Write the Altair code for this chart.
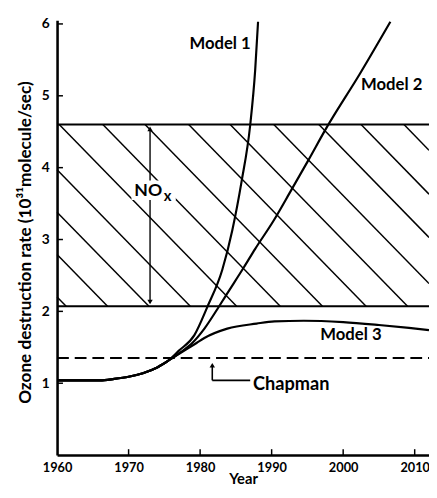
import altair as alt
import pandas as pd

# ---------------- data ----------------
M1_YEARS = [1960, 1963, 1966, 1968, 1970, 1972, 1974, 1975.5, 1977, 1979.2, 1981, 1983.1, 1984.5, 1985.8, 1987.0, 1987.7, 1988.1]
M1_VALUES = [1.04, 1.04, 1.04, 1.06, 1.09, 1.14, 1.22, 1.31, 1.45, 1.67, 2.06, 2.58, 3.13, 3.81, 4.59, 5.36, 6.03]

M2_YEARS = [1960, 1963, 1966, 1968, 1970, 1972, 1974, 1975.5, 1977.4, 1979, 1980.6, 1982.4, 1983.6, 1986.1, 1987.7, 1990.2, 1992.7, 1995.0, 1997.7, 2002.3, 2006.6]
M2_VALUES = [1.04, 1.04, 1.04, 1.06, 1.09, 1.14, 1.22, 1.31, 1.44, 1.57, 1.76, 2.03, 2.22, 2.61, 2.87, 3.25, 3.68, 4.08, 4.56, 5.30, 6.03]

M3_YEARS = [1960, 1963, 1966, 1968, 1970, 1972, 1974, 1975.5, 1977.4, 1979.5, 1980.6, 1983.8, 1987.9, 1990.4, 1994.5, 2000, 2005, 2009.2, 2012]
M3_VALUES = [1.04, 1.04, 1.04, 1.06, 1.09, 1.14, 1.22, 1.31, 1.43, 1.56, 1.63, 1.76, 1.83, 1.86, 1.87, 1.85, 1.81, 1.77, 1.74]

NOX_TOP = 4.6
NOX_BOTTOM = 2.07
CHAPMAN = 1.35

HATCH_TOP_YEARS = [1960.3, 1966.4, 1972.3, 1978.4, 1984.2, 1990.3, 1996.6, 2002.5, 2008.5]
HATCH_LEFT_VALUES = [3.97, 3.38, 2.79, 2.20]
HATCH_SLOPE = 0.102  # units per year

X_MIN, X_MAX = 1960, 2012
Y_MIN, Y_MAX = 0, 6.05
X_TICKS = [1960, 1970, 1980, 1990, 2000, 2010]
X_TICK_MARKS = [1970, 1980, 1990, 2000, 2010]
Y_TICKS = [1, 2, 3, 4, 5, 6]

LABELS = ["Model 1", "Model 2", "Model 3", "Chapman", "NO"]
LABEL_X = [1978.5, 2002.5, 1996.8, 1987.4, 1970.8]
LABEL_Y = [5.72, 5.15, 1.67, 0.99, 3.68]
LABEL_SIZE = [17, 17, 17, 18.5, 18]

NOX_SUB = "x"
NOX_SUB_X = 1974.9
NOX_SUB_Y = 3.6

NOX_ARROW_YEAR = 1973.0
CHAPMAN_ARROW_YEAR = 1981.7
CHAPMAN_ELBOW = 1.04
CHAPMAN_LINE_END = 1987.0

FONT = "Lato"
W, H = 379, 443

# ---------------- derived tables ----------------
models = pd.concat([
    pd.DataFrame({"x": M1_YEARS, "y": M1_VALUES, "model": "Model 1"}),
    pd.DataFrame({"x": M2_YEARS, "y": M2_VALUES, "model": "Model 2"}),
    pd.DataFrame({"x": M3_YEARS, "y": M3_VALUES, "model": "Model 3"}),
])

segs = []
for s in HATCH_TOP_YEARS:
    t = s + (NOX_TOP - NOX_BOTTOM) / HATCH_SLOPE
    if t <= X_MAX:
        segs.append({"x": s, "y": NOX_TOP, "x2": t, "y2": NOX_BOTTOM})
    else:
        segs.append({"x": s, "y": NOX_TOP, "x2": X_MAX, "y2": NOX_TOP - HATCH_SLOPE * (X_MAX - s)})
for v in HATCH_LEFT_VALUES:
    segs.append({"x": X_MIN, "y": v, "x2": X_MIN + (v - NOX_BOTTOM) / HATCH_SLOPE, "y2": NOX_BOTTOM})
hatch = pd.DataFrame(segs)

band = pd.DataFrame({"x": [X_MIN, X_MIN], "x2": [X_MAX, X_MAX], "y": [NOX_TOP, NOX_BOTTOM]})
chap = pd.DataFrame({"x": [X_MIN], "x2": [X_MAX], "y": [CHAPMAN]})

xs = alt.Scale(domain=[X_MIN, X_MAX], nice=False, zero=False)
ys = alt.Scale(domain=[Y_MIN, Y_MAX], nice=False, zero=False)

xaxis = alt.Axis(values=X_TICKS, format="d", ticks=False, grid=False, labelFlush=False,
                 domainWidth=2.6, domainColor="black",
                 labelFont=FONT, labelFontWeight="bold", labelFontSize=13, labelColor="black",
                 labelPadding=7, title="Year", titleFont=FONT, titleFontWeight="bold",
                 titleFontSize=15, titleColor="black", titleY=17, titleBaseline="top")
yaxis = alt.Axis(values=Y_TICKS, format="d", ticks=False, grid=False, labelFlush=False,
                 domainWidth=2.6, domainColor="black",
                 labelFont=FONT, labelFontWeight="bold", labelFontSize=14, labelColor="black",
                 labelPadding=8, title="Ozone destruction rate (10³¹molecule/sec)",
                 titleFont=FONT, titleFontWeight="bold", titleFontSize=17.5, titleColor="black",
                 titlePadding=7, titleY=226)

X = alt.X("x:Q", scale=xs, axis=xaxis)
Y = alt.Y("y:Q", scale=ys, axis=yaxis)

hatch_layer = alt.Chart(hatch).mark_rule(color="black", strokeWidth=1.5).encode(
    x=X, y=Y, x2="x2:Q", y2="y2:Q")
band_layer = alt.Chart(band).mark_rule(color="black", strokeWidth=2).encode(x=X, x2="x2:Q", y=Y)
chap_layer = alt.Chart(chap).mark_rule(color="black", strokeWidth=2, strokeDash=[12, 6]).encode(
    x=X, x2="x2:Q", y=Y)

nox_arrow = alt.Chart(pd.DataFrame({"x": [NOX_ARROW_YEAR], "y": [NOX_BOTTOM + 0.05], "y2": [NOX_TOP - 0.05]})).mark_rule(
    color="black", strokeWidth=1.4).encode(x=X, y=Y, y2="y2:Q")
heads = pd.DataFrame({"x": [NOX_ARROW_YEAR, NOX_ARROW_YEAR, CHAPMAN_ARROW_YEAR],
                      "y": [NOX_TOP - 0.06, NOX_BOTTOM + 0.06, CHAPMAN - 0.1],
                      "shape": ["triangle-up", "triangle-down", "triangle-up"]})
head_layer = alt.Chart(heads).mark_point(filled=True, color="black", size=30, opacity=1).encode(
    x=X, y=Y, shape=alt.Shape("shape:N", scale=None, legend=None))

chap_v = alt.Chart(pd.DataFrame({"x": [CHAPMAN_ARROW_YEAR], "y": [CHAPMAN_ELBOW], "y2": [CHAPMAN - 0.1]})).mark_rule(
    color="black", strokeWidth=1.6).encode(x=X, y=Y, y2="y2:Q")
chap_h = alt.Chart(pd.DataFrame({"x": [CHAPMAN_ARROW_YEAR], "x2": [CHAPMAN_LINE_END], "y": [CHAPMAN_ELBOW]})).mark_rule(
    color="black", strokeWidth=1.6).encode(x=X, x2="x2:Q", y=Y)

nox_box = alt.Chart(pd.DataFrame({"x": [1970.4], "x2": [1976.6], "y": [3.55], "y2": [3.82]})).mark_rect(
    color="white").encode(x=X, x2="x2:Q", y=Y, y2="y2:Q")

lines = alt.Chart(models).mark_line(color="black", strokeWidth=2.2, interpolate="monotone", clip=True).encode(
    x=X, y=Y, detail="model:N")

labels = pd.DataFrame({"x": LABEL_X, "y": LABEL_Y, "t": LABELS, "s": LABEL_SIZE})
text_layer = alt.Chart(labels).mark_text(font=FONT, fontWeight="bold", align="left",
                                         baseline="middle", color="black").encode(
    x=X, y=Y, text="t:N", size=alt.Size("s:Q", scale=None, legend=None))
sub_layer = alt.Chart(pd.DataFrame({"x": [NOX_SUB_X], "y": [NOX_SUB_Y], "t": [NOX_SUB]})).mark_text(
    font=FONT, fontWeight="bold", fontSize=15, align="left", baseline="middle", color="black").encode(
    x=X, y=Y, text="t:N")

yt = alt.Chart(pd.DataFrame({"y": Y_TICKS})).mark_rule(color="black", strokeWidth=1.5).encode(
    y=Y, x=alt.value(0), x2=alt.value(6))
xt = alt.Chart(pd.DataFrame({"x": X_TICK_MARKS})).mark_rule(color="black", strokeWidth=1.5).encode(
    x=X, y=alt.value(H), y2=alt.value(H - 6))

chart = alt.layer(hatch_layer, band_layer, chap_layer, nox_arrow, head_layer, chap_v, chap_h,
                  nox_box, lines, text_layer, sub_layer, yt, xt).properties(
    width=W, height=H,
    autosize=alt.AutoSizeParams(type="none"),
    padding={"left": 50, "top": 8, "right": 0, "bottom": 31},
).configure_view(stroke=None)

chart.save("out.html", embed_options={"renderer": "svg", "actions": False})
